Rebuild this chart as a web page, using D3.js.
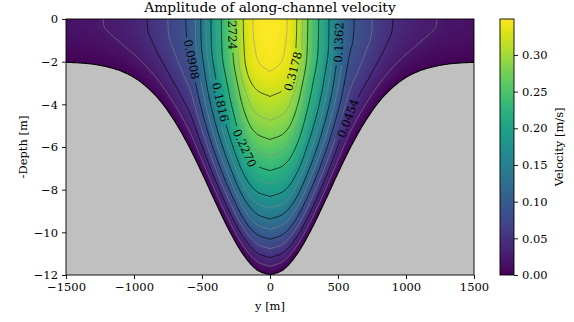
<!DOCTYPE html>
<html>
<head>
<meta charset="utf-8">
<script src="https://cdn.jsdelivr.net/npm/d3@7"></script>
<style>
  body { margin: 0; background: #fff; }
  svg { display: block; }
  text { font-family: "DejaVu Serif", serif; }
</style>
</head>
<body>
<svg id="chart" width="574" height="322"></svg>
<script>
// channel half-section: distance from axis [m] and water depth [m] (mirrored)
var bathyY = [0, 100, 200, 300, 400, 500, 600, 700, 800, 900, 1000, 1100, 1200, 1300, 1400, 1500];
var bathyDepth = [12.00, 11.74, 11.01, 9.91, 8.60, 7.22, 5.92, 4.80, 3.89, 3.22, 2.74, 2.43, 2.24, 2.12, 2.06, 2.03];

// surface amplitude [m/s] as a function of local depth [m]
var surfDepth = [2.0, 2.2, 3.2, 4.3, 5.5, 6.2, 7.0, 8.0, 9.0, 10.2, 11.0, 11.5, 12.0];
var surfSpeed = [0.016, 0.0227, 0.0454, 0.068, 0.088, 0.100, 0.132, 0.176, 0.220, 0.274, 0.316, 0.338, 0.350];

// vertical shape: fraction of depth (0 surface, 1 bottom) -> fraction of surface amplitude
var profS = [0, 0.1, 0.2, 0.3, 0.4, 0.5, 0.6, 0.7, 0.8, 0.9, 1.0];
var profF = [1, 0.994, 0.975, 0.91, 0.84, 0.75, 0.64, 0.51, 0.36, 0.19, 0];

var xTicks = [-1500, -1000, -500, 0, 500, 1000, 1500];
var yTicks = [0, -2, -4, -6, -8, -10, -12];
var cbTicks = [0, 0.05, 0.10, 0.15, 0.20, 0.25, 0.30];
var vmax = 0.349;
var lineStep = 0.0227;
var lineLevels = d3.range(1, 16).map(function (k) { return +(k * lineStep).toFixed(4); });

// labels: level, approximate spot on the picture
var labelSpots = [
  {level: 0.0908, x: 190, y: 60},
  {level: 0.1816, x: 219, y: 103},
  {level: 0.2724, x: 233, y: 30},
  {level: 0.2270, x: 246, y: 148},
  {level: 0.3178, x: 288, y: 70},
  {level: 0.1362, x: 340, y: 43},
  {level: 0.0454, x: 349, y: 118}
];

// monotone cubic through knots
function monotone(xs, ys) {
  var n = xs.length, d = [], m = [];
  for (var i = 0; i < n - 1; i++) d.push((ys[i + 1] - ys[i]) / (xs[i + 1] - xs[i]));
  m[0] = d[0]; m[n - 1] = d[n - 2];
  for (var i = 1; i < n - 1; i++) m[i] = d[i - 1] * d[i] <= 0 ? 0 : (d[i - 1] + d[i]) / 2;
  for (var i = 0; i < n - 1; i++) {
    if (d[i] === 0) { m[i] = 0; m[i + 1] = 0; continue; }
    var a = m[i] / d[i], b = m[i + 1] / d[i], s = a * a + b * b;
    if (s > 9) { var t = 3 / Math.sqrt(s); m[i] = t * a * d[i]; m[i + 1] = t * b * d[i]; }
  }
  return function (x) {
    if (x <= xs[0]) return ys[0];
    if (x >= xs[n - 1]) return ys[n - 1];
    var i = d3.bisectRight(xs, x) - 1;
    var h = xs[i + 1] - xs[i], t = (x - xs[i]) / h;
    var t2 = t * t, t3 = t2 * t;
    return (2 * t3 - 3 * t2 + 1) * ys[i] + (t3 - 2 * t2 + t) * h * m[i] +
      (-2 * t3 + 3 * t2) * ys[i + 1] + (t3 - t2) * h * m[i + 1];
  };
}

var depthAt = monotone(bathyY, bathyDepth);
function depth(y) { return depthAt(Math.abs(y)); }
var surfAt = monotone(surfDepth, surfSpeed);
var shapeAt = monotone(profS, profF);

var svg = d3.select("#chart");
var W = 574, H = 322;
var ax = {left: 66, right: 474, top: 19, bottom: 275};
var fs = 11.5;

var x = d3.scaleLinear().domain([-1500, 1500]).range([ax.left, ax.right]);
var y = d3.scaleLinear().domain([-12, 0]).range([ax.bottom, ax.top]);
var color = function (v) { return d3.interpolateViridis(Math.max(0, Math.min(1, v / vmax))); };

// grid
var dy = 10, dz = 0.05, y0 = -1550, z0 = -0.3;
var nx = Math.round(3100 / dy) + 1, nz = Math.round(12.6 / dz) + 1;
var values = new Float64Array(nx * nz);
for (var j = 0; j < nz; j++) {
  var zeta = z0 + j * dz;
  for (var i = 0; i < nx; i++) {
    var yy = y0 + i * dy, h = depth(yy);
    var s = Math.max(0, zeta) / h;
    values[j * nx + i] = s >= 1 ? 0 : surfAt(h) * shapeAt(s);
  }
}

var proj = d3.geoTransform({
  point: function (gx, gy) {
    this.stream.point(x(y0 + (gx - 0.5) * dy), y(-(z0 + (gy - 0.5) * dz)));
  }
});
var path = d3.geoPath(proj);
var contours = d3.contours().size([nx, nz]);

var defs = svg.append("defs");
defs.append("clipPath").attr("id", "axclip").append("rect")
  .attr("x", ax.left).attr("y", ax.top)
  .attr("width", ax.right - ax.left).attr("height", ax.bottom - ax.top);

var plot = svg.append("g").attr("clip-path", "url(#axclip)");

// filled field
var fillSteps = d3.range(0, vmax, vmax / 120);
var bands = contours.thresholds(fillSteps)(values);
plot.append("g").selectAll("path").data(bands).enter().append("path")
  .attr("d", path)
  .attr("fill", function (d) { return color(d.value + vmax / 240); })
  .attr("stroke", "none");

// land
var bedY = d3.range(-1500, 1501, 5);
var land = [[-1500, -12]].concat(bedY.map(function (v) { return [v, -depth(v)]; }), [[1500, -12]]);
plot.append("path")
  .attr("d", d3.line().x(function (d) { return x(d[0]); }).y(function (d) { return y(d[1]); })(land) + "Z")
  .attr("fill", "#c0c0c0");

// contour lines
var lines = contours.thresholds(lineLevels)(values);
var mask = defs.append("mask").attr("id", "labelmask").attr("maskUnits", "userSpaceOnUse")
  .attr("x", 0).attr("y", 0).attr("width", W).attr("height", H);
mask.append("rect").attr("width", W).attr("height", H).attr("fill", "#fff");

var lineG = plot.append("g").attr("mask", "url(#labelmask)");
lineG.selectAll("path").data(lines).enter().append("path")
  .attr("d", path)
  .attr("fill", "none")
  .attr("stroke", function (d, k) { return k % 2 === 1 ? "#000" : "#8a8a8a"; })
  .attr("stroke-opacity", function (d, k) { return k % 2 === 1 ? 0.85 : 0.8; })
  .attr("stroke-width", function (d, k) { return k % 2 === 1 ? 0.8 : 0.7; });

// bed line
plot.append("path")
  .attr("d", d3.line().x(function (d) { return x(d); }).y(function (d) { return y(-depth(d)); })(bedY))
  .attr("fill", "none").attr("stroke", "#000").attr("stroke-width", 1.1);

// contour labels placed on the nearest point of their line
var labelG = plot.append("g");
labelSpots.forEach(function (spot) {
  var c = lines[lineLevels.indexOf(spot.level)];
  var best = null, bestD = Infinity;
  c.coordinates.forEach(function (poly) {
    poly.forEach(function (ring) {
      var pts = ring.map(function (p) { return [x(y0 + (p[0] - 0.5) * dy), y(-(z0 + (p[1] - 0.5) * dz))]; });
      pts.forEach(function (p, k) {
        var dd = (p[0] - spot.x) * (p[0] - spot.x) + (p[1] - spot.y) * (p[1] - spot.y);
        if (dd < bestD) { bestD = dd; best = {pts: pts, k: k}; }
      });
    });
  });
  var pts = best.pts, k = best.k, n = pts.length;
  var a = pts[(k - 6 + n) % n], b = pts[(k + 6) % n];
  var ang = Math.atan2(b[1] - a[1], b[0] - a[0]) * 180 / Math.PI;
  if (ang > 90) ang -= 180;
  if (ang <= -90) ang += 180;
  var p = pts[k];
  var t = labelG.append("text")
    .attr("transform", "translate(" + p[0] + "," + p[1] + ") rotate(" + ang + ")")
    .attr("text-anchor", "middle").attr("dy", "0.35em")
    .attr("font-size", fs).attr("fill", "#000")
    .text(spot.level.toFixed(4));
  var len = t.node().getComputedTextLength();
  mask.append("rect")
    .attr("x", -len / 2 - 3).attr("y", -6).attr("width", len + 6).attr("height", 12)
    .attr("transform", "translate(" + p[0] + "," + p[1] + ") rotate(" + ang + ")")
    .attr("fill", "#000");
});

// axes
var fmtMinus = function (v) { return String(v).replace("-", "\u2212"); };
var xAxis = svg.append("g").attr("transform", "translate(0," + ax.bottom + ")")
  .call(d3.axisBottom(x).tickValues(xTicks).tickSize(4).tickPadding(4).tickFormat(fmtMinus));
var yAxis = svg.append("g").attr("transform", "translate(" + ax.left + ",0)")
  .call(d3.axisLeft(y).tickValues(yTicks).tickSize(4).tickPadding(4).tickFormat(fmtMinus));
[xAxis, yAxis].forEach(function (g) {
  g.select(".domain").remove();
  g.selectAll("text").attr("font-family", "DejaVu Serif").attr("font-size", fs).attr("fill", "#000");
  g.selectAll("line").attr("stroke", "#000").attr("stroke-width", 0.9);
});
svg.append("rect").attr("x", ax.left).attr("y", ax.top)
  .attr("width", ax.right - ax.left).attr("height", ax.bottom - ax.top)
  .attr("fill", "none").attr("stroke", "#000").attr("stroke-width", 0.9);

svg.append("text").attr("x", (ax.left + ax.right) / 2).attr("y", 12)
  .attr("text-anchor", "middle").attr("font-size", 13.8).text("Amplitude of along-channel velocity");
svg.append("text").attr("x", (ax.left + ax.right) / 2).attr("y", 310)
  .attr("text-anchor", "middle").attr("font-size", fs).text("y [m]");
svg.append("text").attr("transform", "translate(26.5," + (ax.top + ax.bottom) / 2 + ") rotate(-90)")
  .attr("text-anchor", "middle").attr("font-size", fs).text("-Depth [m]");

// colorbar
var cb = {left: 500, right: 514};
var cy = d3.scaleLinear().domain([0, vmax]).range([ax.bottom, ax.top]);
var grad = defs.append("linearGradient").attr("id", "cbgrad")
  .attr("x1", 0).attr("y1", 1).attr("x2", 0).attr("y2", 0);
d3.range(0, 1.0001, 0.02).forEach(function (t) {
  grad.append("stop").attr("offset", t).attr("stop-color", d3.interpolateViridis(t));
});
svg.append("rect").attr("x", cb.left).attr("y", ax.top)
  .attr("width", cb.right - cb.left).attr("height", ax.bottom - ax.top)
  .attr("fill", "url(#cbgrad)").attr("stroke", "#000").attr("stroke-width", 0.9);
var cbAxis = svg.append("g").attr("transform", "translate(" + cb.right + ",0)")
  .call(d3.axisRight(cy).tickValues(cbTicks).tickSize(4).tickPadding(4).tickFormat(d3.format(".2f")));
cbAxis.select(".domain").remove();
cbAxis.selectAll("text").attr("font-family", "DejaVu Serif").attr("font-size", fs).attr("fill", "#000");
cbAxis.selectAll("line").attr("stroke", "#000").attr("stroke-width", 0.9);
svg.append("text").attr("transform", "translate(563," + (ax.top + ax.bottom) / 2 + ") rotate(-90)")
  .attr("text-anchor", "middle").attr("font-size", fs).text("Velocity [m/s]");
</script>
</body>
</html>
